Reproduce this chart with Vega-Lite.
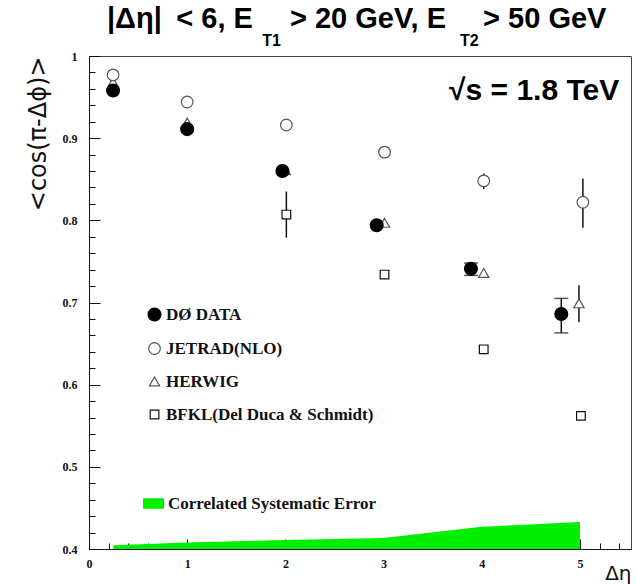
{
  "$schema": "https://vega.github.io/schema/vega-lite/v6.json",
  "width": 542,
  "height": 493,
  "autosize": "none",
  "padding": {"left": 89, "top": 56, "right": 6, "bottom": 35},
  "background": "white",
  "title": {
    "text": "|Δη|\u2002< 6, E\u2003 > 20 GeV, E\u2003 > 50 GeV",
    "subtitle": "\u200b\u2003\u2003\u2003\u2003\u2003\u2003\u2003\u2003\u2003\u2002\u2009T1\u2003\u2003\u2003\u2003\u2003\u2003\u2003\u2003\u2003\u2003\u2003\u2009T2",
    "anchor": "start",
    "frame": "group",
    "dx": 18,
    "font": "Liberation Sans",
    "fontSize": 29,
    "fontWeight": "bold",
    "color": "#000000",
    "subtitleFont": "Liberation Sans",
    "subtitleFontSize": 16,
    "subtitleFontWeight": "bold",
    "subtitleColor": "#000000",
    "subtitlePadding": -1,
    "offset": 1
  },
  "datasets": {
    "measurements": [
      {"series": "HERWIG", "eta": 0.245, "val": 0.968},
      {"series": "HERWIG", "eta": 1.0, "val": 0.919},
      {"series": "HERWIG", "eta": 2.0, "val": 0.861},
      {"series": "HERWIG", "eta": 3.01, "val": 0.797},
      {"series": "HERWIG", "eta": 4.02, "val": 0.736},
      {"series": "HERWIG", "eta": 4.99, "val": 0.699, "lo": 0.676, "hi": 0.721},
      {"series": "JETRAD(NLO)", "eta": 0.245, "val": 0.977},
      {"series": "JETRAD(NLO)", "eta": 1.0, "val": 0.944},
      {"series": "JETRAD(NLO)", "eta": 2.01, "val": 0.916},
      {"series": "JETRAD(NLO)", "eta": 3.01, "val": 0.883},
      {"series": "JETRAD(NLO)", "eta": 4.02, "val": 0.848, "lo": 0.838, "hi": 0.857},
      {"series": "JETRAD(NLO)", "eta": 5.03, "val": 0.822, "lo": 0.791, "hi": 0.851},
      {"series": "BFKL(Del Duca & Schmidt)", "eta": 2.01, "val": 0.807, "lo": 0.779, "hi": 0.835},
      {"series": "BFKL(Del Duca & Schmidt)", "eta": 3.01, "val": 0.734},
      {"series": "BFKL(Del Duca & Schmidt)", "eta": 4.02, "val": 0.643},
      {"series": "BFKL(Del Duca & Schmidt)", "eta": 5.01, "val": 0.562},
      {"series": "DØ DATA", "eta": 0.245, "val": 0.958},
      {"series": "DØ DATA", "eta": 1.0, "val": 0.911},
      {"series": "DØ DATA", "eta": 1.97, "val": 0.86},
      {"series": "DØ DATA", "eta": 2.93, "val": 0.794},
      {"series": "DØ DATA", "eta": 3.89, "val": 0.741, "lo": 0.733, "hi": 0.748},
      {"series": "DØ DATA", "eta": 4.81, "val": 0.686, "lo": 0.663, "hi": 0.705}
    ],
    "systematics": [
      {"band": "Correlated Systematic Error", "eta": 0.25, "sys": 0.4045},
      {"band": "Correlated Systematic Error", "eta": 1.0, "sys": 0.408},
      {"band": "Correlated Systematic Error", "eta": 2.0, "sys": 0.411},
      {"band": "Correlated Systematic Error", "eta": 3.0, "sys": 0.4135},
      {"band": "Correlated Systematic Error", "eta": 4.0, "sys": 0.427},
      {"band": "Correlated Systematic Error", "eta": 5.0, "sys": 0.433}
    ],
    "notes": [
      {"note": "√s = 1.8 TeV"}
    ]
  },
  "resolve": {"axis": {"x": "independent", "y": "independent"}},
  "layer": [
    {
      "data": {"name": "systematics"},
      "mark": {"type": "area", "opacity": 1},
      "encoding": {
        "x": {
          "field": "eta",
          "type": "quantitative",
          "scale": {"domain": [0, 5.52], "nice": false, "zero": false},
          "axis": {
            "orient": "bottom",
            "title": "Δη",
            "values": [0, 1, 2, 3, 4, 5],
            "format": "d",
            "tickSize": -10,
            "labelPadding": 19,
            "labelFlush": false,
            "labelOverlap": false,
            "labelFont": "Liberation Serif",
            "labelFontWeight": "bold",
            "labelFontSize": 12,
            "labelColor": "#111111",
            "tickColor": "#111111",
            "domainColor": "#111111",
            "grid": false,
            "titleFont": "DejaVu Sans",
            "titleFontWeight": "normal",
            "titleFontSize": 20,
            "titleColor": "#111111",
            "titleAnchor": "end",
            "titlePadding": -6
          }
        },
        "y": {
          "field": "sys",
          "type": "quantitative",
          "scale": {"domain": [0.4, 1.0], "nice": false, "zero": false},
          "axis": {
            "orient": "left",
            "title": "<cos(π-Δϕ)>",
            "values": [0.4, 0.5, 0.6, 0.7, 0.8, 0.9, 1.0],
            "format": ".1~f",
            "tickSize": -11,
            "labelPadding": 23,
            "labelFlush": false,
            "labelOverlap": false,
            "labelFont": "Liberation Serif",
            "labelFontWeight": "bold",
            "labelFontSize": 12,
            "labelColor": "#111111",
            "tickColor": "#111111",
            "domainColor": "#111111",
            "grid": false,
            "titleFont": "DejaVu Sans",
            "titleFontWeight": "normal",
            "titleFontSize": 24,
            "titleColor": "#111111",
            "titleAnchor": "end",
            "titlePadding": 12
          }
        },
        "y2": {"datum": 0.4},
        "color": {
          "field": "band",
          "type": "nominal",
          "scale": {"range": ["#00ee00"]},
          "legend": {
            "orient": "none",
            "legendX": 54,
            "legendY": 437,
            "title": null,
            "padding": 0,
            "symbolType": "M-1,-0.5H1V0.5H-1Z",
            "symbolSize": 441,
            "symbolStrokeWidth": 0,
            "labelOffset": 4,
            "labelFont": "Liberation Serif",
            "labelFontWeight": "bold",
            "labelFontSize": 17,
            "labelColor": "#111111",
            "labelLimit": 400
          }
        }
      }
    },
    {
      "data": {"name": "measurements"},
      "transform": [{"filter": "isValid(datum.lo)"}],
      "mark": {"type": "rule", "color": "#111111", "strokeWidth": 1.5},
      "encoding": {
        "x": {
          "field": "eta",
          "type": "quantitative",
          "axis": {
            "orient": "bottom",
            "title": null,
            "values": [0.2, 0.4, 0.6, 0.8, 1.2, 1.4, 1.6, 1.8, 2.2, 2.4, 2.6, 2.8, 3.2, 3.4, 3.6, 3.8, 4.2, 4.4, 4.6, 4.8, 5.2, 5.4],
            "labels": false,
            "domain": false,
            "grid": false,
            "tickSize": -6,
            "tickColor": "#111111"
          }
        },
        "y": {
          "field": "lo",
          "type": "quantitative",
          "axis": {
            "orient": "left",
            "title": null,
            "values": [0.42, 0.44, 0.46, 0.48, 0.52, 0.54, 0.56, 0.58, 0.62, 0.64, 0.66, 0.68, 0.72, 0.74, 0.76, 0.78, 0.82, 0.84, 0.86, 0.88, 0.92, 0.94, 0.96, 0.98],
            "labels": false,
            "domain": false,
            "grid": false,
            "tickSize": -6,
            "tickColor": "#111111"
          }
        },
        "y2": {"field": "hi"}
      }
    },
    {
      "data": {"name": "measurements"},
      "transform": [{"filter": "isValid(datum.lo) && datum.series === 'DØ DATA'"}],
      "mark": {"type": "tick", "orient": "horizontal", "color": "#111111", "size": 14, "thickness": 1.5},
      "encoding": {
        "x": {"field": "eta", "type": "quantitative", "axis": null},
        "y": {"field": "lo", "type": "quantitative", "axis": null}
      }
    },
    {
      "data": {"name": "measurements"},
      "transform": [{"filter": "isValid(datum.hi) && datum.series === 'DØ DATA'"}],
      "mark": {"type": "tick", "orient": "horizontal", "color": "#111111", "size": 14, "thickness": 1.5},
      "encoding": {
        "x": {"field": "eta", "type": "quantitative", "axis": null},
        "y": {"field": "hi", "type": "quantitative", "axis": null}
      }
    },
    {
      "data": {"name": "measurements"},
      "mark": {"type": "point", "filled": true, "strokeWidth": 1.2, "opacity": 1},
      "encoding": {
        "x": {"field": "eta", "type": "quantitative", "axis": null},
        "y": {"field": "val", "type": "quantitative", "axis": null},
        "shape": {
          "field": "series",
          "type": "nominal",
          "scale": {
            "domain": ["DØ DATA", "JETRAD(NLO)", "HERWIG", "BFKL(Del Duca & Schmidt)"],
            "range": ["circle", "circle", "triangle-up", "square"]
          },
          "legend": {
            "orient": "none",
            "legendX": 57,
            "legendY": 250,
            "title": null,
            "padding": 0,
            "rowPadding": 15,
            "labelOffset": 3,
            "labelFont": "Liberation Serif",
            "labelFontWeight": "bold",
            "labelFontSize": 17,
            "labelColor": "#111111",
            "labelLimit": 400,
            "symbolStrokeWidth": 1.2
          }
        },
        "fill": {
          "field": "series",
          "type": "nominal",
          "scale": {
            "domain": ["DØ DATA", "JETRAD(NLO)", "HERWIG", "BFKL(Del Duca & Schmidt)"],
            "range": ["#000000", "#ffffff", "#ffffff", "#ffffff"]
          }
        },
        "stroke": {
          "field": "series",
          "type": "nominal",
          "scale": {
            "domain": ["DØ DATA", "JETRAD(NLO)", "HERWIG", "BFKL(Del Duca & Schmidt)"],
            "range": ["#000000", "#555555", "#555555", "#111111"]
          }
        },
        "size": {
          "field": "series",
          "type": "nominal",
          "scale": {
            "domain": ["DØ DATA", "JETRAD(NLO)", "HERWIG", "BFKL(Del Duca & Schmidt)"],
            "range": [165, 75, 70, 100]
          }
        }
      }
    },
    {
      "data": {"name": "notes"},
      "mark": {"type": "text", "align": "right", "baseline": "alphabetic", "font": "Liberation Sans", "fontSize": 30, "fontWeight": "bold", "color": "#000000"},
      "encoding": {
        "x": {"datum": 5.4, "type": "quantitative", "axis": null},
        "y": {"datum": 0.946, "type": "quantitative", "axis": null},
        "text": {"field": "note"}
      }
    }
  ],
  "config": {
    "view": {"stroke": "#444444", "strokeWidth": 1},
    "axis": {"domainWidth": 1, "tickWidth": 1}
  }
}
